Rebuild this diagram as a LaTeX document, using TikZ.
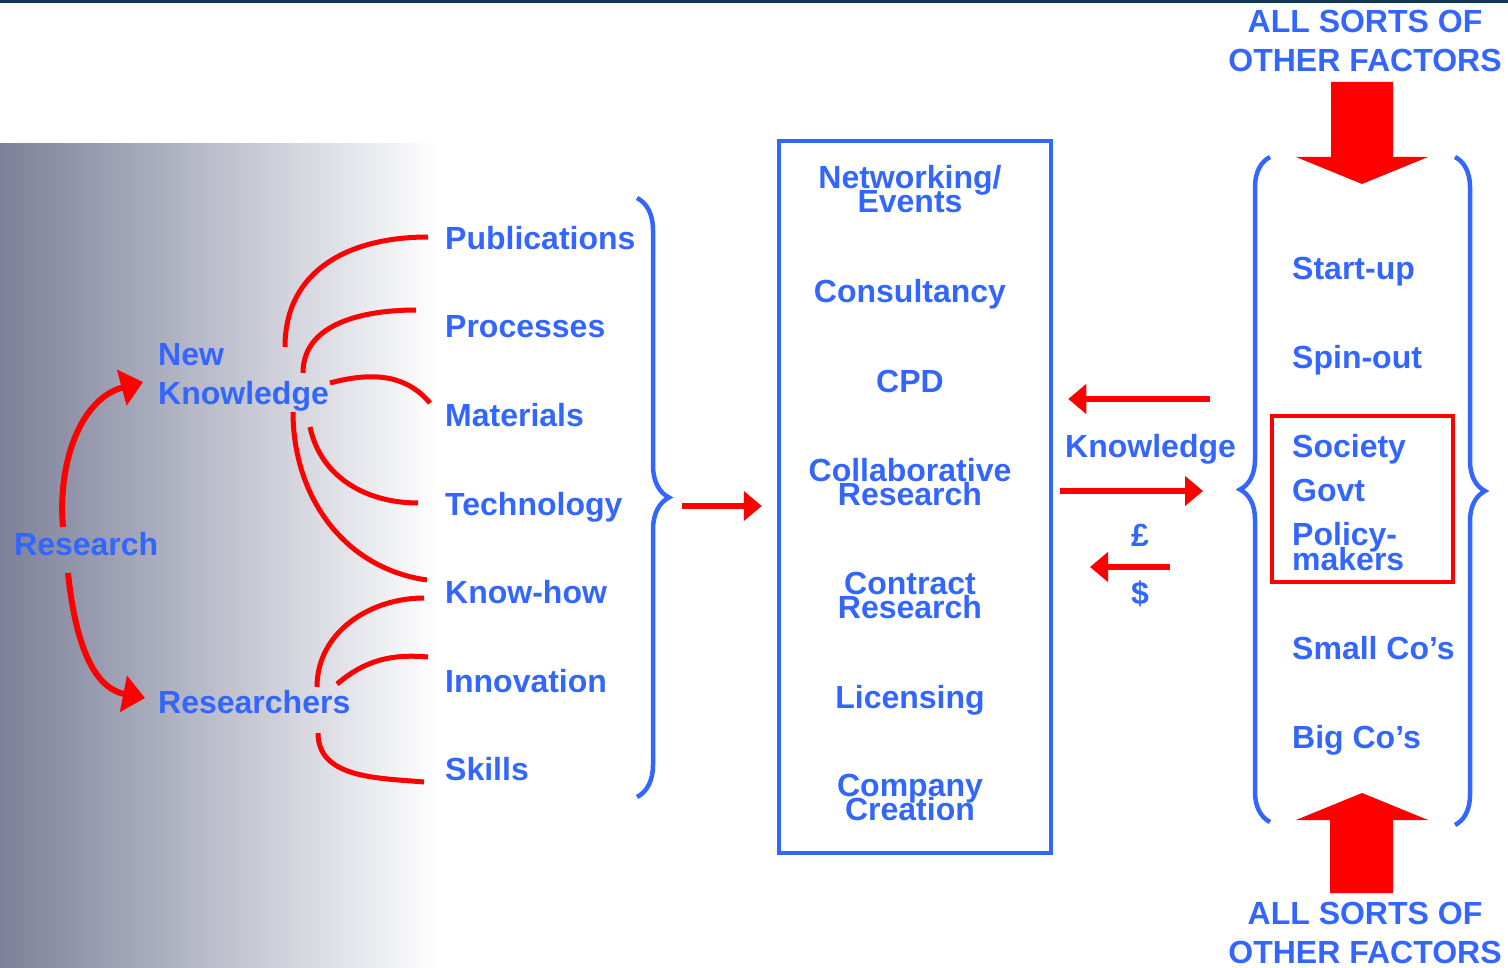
\documentclass[tikz,border=0pt]{standalone}
\usepackage{fontspec}
\setmainfont{Liberation Sans}
\usepackage{tikz}
\usetikzlibrary{arrows.meta,decorations.pathreplacing,positioning}

\definecolor{ktblue}{RGB}{51,102,255}
\definecolor{ktred}{RGB}{255,0,0}
\definecolor{ktgray}{RGB}{124,128,153}
\definecolor{ktnavy}{RGB}{14,56,88}
\newcommand\ktfont[1]{\bfseries\fontsize{32}{#1}\selectfont\lineskiplimit=-40pt\relax}

\begin{document}
\begin{tikzpicture}[x=1pt, y=-1pt,
    every node/.append style={
        text=ktblue, inner sep=0pt, font=\ktfont{39}
    },
    outitem/.style={anchor=base west},
    mechitem/.style={anchor=base, align=center, font=\ktfont{24}},
    linkarc/.style={ktred, line width=5pt},
    growarrow/.style={ktred, line width=6pt, -{Triangle[length=22pt,width=36pt]}},
    flowarrow/.style={ktred, line width=5.5pt, -{Triangle[length=18pt,width=29pt]}},
    curly/.style={ktblue, line width=4.5pt, decorate}]
    \useasboundingbox (0,0) rectangle (1508,968);
    \fill[ktnavy] (0,0) rectangle (1508,3);
    \shade[left color=ktgray, right color=white] (0,144) rectangle (440,968);

    \node[outitem, align=left] (newknow) at (158,404) {New\\Knowledge};
    \node[outitem] (research) at (14,555) {Research};
    \node[outitem] (researchers) at (158,713) {Researchers};

    \node[outitem] (pub) at (445,250) {Publications};
    \node[outitem] (proc) at (445,338) {Processes};
    \node[outitem] (mat) at (445,426) {Materials};
    \node[outitem] (tech) at (445,515) {Technology};
    \node[outitem] (knowhow) at (445,603) {Know-how};
    \node[outitem] (innov) at (445,692) {Innovation};
    \node[outitem] (skills) at (445,780) {Skills};

    \node[draw=ktblue, line width=4.5pt, minimum width=272pt, minimum height=712pt] (mech) at (915,497) {};
    \node[mechitem] (netw) at (910,213) {Networking/\\Events};
    \node[mechitem] (consult) at (910,303) {Consultancy};
    \node[mechitem] (cpd) at (910,392) {CPD};
    \node[mechitem] (collab) at (910,505) {Collaborative\\Research};
    \node[mechitem] (contract) at (910,618) {Contract\\Research};
    \node[mechitem] (licence) at (910,708) {Licensing};
    \node[mechitem] (company) at (910,820) {Company\\Creation};

    \node[outitem] (knowflow) at (1065,457) {Knowledge};
    \node[anchor=base] (pound) at (1140,546) {£};
    \node[anchor=base] (dollar) at (1140,604) {\$};

    \node[outitem] (startup) at (1292,280) {Start-up};
    \node[outitem] (spinout) at (1292,369) {Spin-out};
    \node[outitem] (society) at (1292,457) {Society};
    \node[outitem] (govt) at (1292,501) {Govt};
    \node[outitem, align=left, font=\ktfont{25}] (policy) at (1292,570) {Policy-\\makers};
    \node[outitem] (smallco) at (1292,659) {Small Co’s};
    \node[outitem] (bigco) at (1292,748) {Big Co’s};
    \node[draw=ktred, line width=4.5pt, minimum width=181pt, minimum height=166pt] (public) at (1362.5,499) {};

    \node[anchor=base, align=center] (topfactors) at (1365,72) {ALL SORTS OF\\OTHER FACTORS};
    \node[anchor=base, align=center] (botfactors) at (1365,963) {ALL SORTS OF\\OTHER FACTORS};
    \fill[ktred] (1331,82) -- (1393,82) -- (1393,157) -- (1428,157) -- (1362,184) -- (1296,157) -- (1331,157) -- cycle;
    \fill[ktred] (1330,893) -- (1393,893) -- (1393,820) -- (1428,820) -- (1362,793) -- (1296,820) -- (1330,820) -- cycle;

    \draw[curly, decoration={brace, amplitude=32pt}] (637,198) -- (637,797);
    \draw[curly, decoration={brace, amplitude=30pt}] (1270,822) -- (1270,157);
    \draw[curly, decoration={brace, amplitude=30pt}] (1455,157) -- (1455,825);

    \coordinate (nk a) at (285,347);
    \coordinate (nk b) at (303,373);
    \coordinate (nk c) at (330,383);
    \coordinate (nk d) at (310,427);
    \coordinate (nk e) at (293,412);
    \coordinate (rs a) at (317,687);
    \coordinate (rs b) at (337,684);
    \coordinate (rs c) at (318,733);
    \draw[linkarc] (nk a) to[out=90,in=180,looseness=1.1] ([shift={(-17,-13)}]pub.base west);
    \draw[linkarc] (nk b) to[out=90,in=180] ([shift={(-29,-28)}]proc.base west);
    \draw[linkarc] (nk c) to[out=15,in=130] ([shift={(-15,-23)}]mat.base west);
    \draw[linkarc] (nk d) to[out=-78,in=180] ([shift={(-27,-12)}]tech.base west);
    \draw[linkarc] (nk e) to[out=-90,in=172] ([shift={(-18,-23)}]knowhow.base west);
    \draw[linkarc] (rs a) to[out=90,in=180] ([shift={(-21,-5)}]knowhow.base west);
    \draw[linkarc] (rs b) to[out=40,in=175] ([shift={(-17,-35)}]innov.base west);
    \draw[linkarc] (rs c) to[out=-90,in=175] ([shift={(-21,2)}]skills.base west);

    \coordinate (res up) at (63,527);
    \coordinate (res down) at (68,573);
    \coordinate (nk tip) at (143,382);
    \draw[growarrow] (res up) to[out=95,in=-165] (nk tip);
    \draw[growarrow] (res down) to[out=-84,in=169] ([shift={(-13,-15)}]researchers.base west);

    \coordinate (brace tip) at (682,506);
    \coordinate (back start) at (1210,399);
    \coordinate (fwd end) at (1203,491);
    \coordinate (pay start) at (1170,567);
    \coordinate (pay end) at (1090,567);
    \draw[flowarrow, shorten >=15pt] (brace tip) -- (brace tip -| mech.west);
    \draw[flowarrow, shorten >=15pt] (back start) -- (back start -| mech.east);
    \draw[flowarrow, shorten <=7pt] (mech.east |- fwd end) -- (fwd end);
    \draw[flowarrow] (pay start) -- (pay end);
\end{tikzpicture}
\end{document}
